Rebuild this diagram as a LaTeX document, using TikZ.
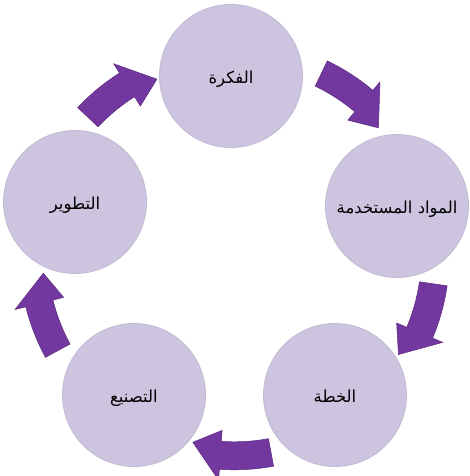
\documentclass[tikz,border=0pt]{standalone}
\usepackage{fontspec}
\TeXXeTstate=1
\newfontfamily\arabicfont[Script=Arabic]{DejaVu Sans}
\definecolor{circfill}{RGB}{205,196,224}
\definecolor{arrowpurple}{RGB}{115,55,160}
\newcommand{\cyclearrow}[1]{%
  \pgfmathsetmacro{\ta}{#1+10.5}%
  \pgfmathsetmacro{\ba}{#1-4}%
  \pgfmathsetmacro{\pa}{#1-12.5}%
  \fill[cyclearrowstyle] (\ta:215) arc[start angle=\ta, end angle=\ba, radius=215]
    -- (\ba:226) -- (\pa:192) -- (\ba:176) -- (\ba:187)
    arc[start angle=\ba, end angle=\ta, radius=187] -- cycle;}
\newcommand{\stagetext}[1]{\beginR #1\endR}
\begin{document}
\begin{tikzpicture}[x=1pt,y=1pt,
  stage/.style={circle, fill=circfill, draw=circfill!85!gray, line width=0.8pt,
    minimum size=143pt, inner sep=0pt, text height=15pt, text depth=0pt,
    font=\arabicfont\fontsize{16.5}{19}\selectfont, text=black},
  cyclearrowstyle/.style={fill=arrowpurple, draw=arrowpurple!80!black, line width=0.5pt}]
\useasboundingbox (0,0) rectangle (469,476);
\fill[white] (0,0) rectangle (469,476);
\coordinate (C) at (234.4,221.2);
\node[stage] (idea) at (231,400) {\stagetext{الفكرة}};
\node[stage] (materials) at (397,270) {\stagetext{المواد المستخدمة}};
\node[stage] (plan) at (335,81) {\stagetext{الخطة}};
\node[stage] (making) at (134,81) {\stagetext{التصنيع}};
\node[stage] (develop) at (75,274) {\stagetext{التطوير}};
\begin{scope}[shift={(C)}]
  \cyclearrow{53.9}
  \cyclearrow{-18.8}
  \cyclearrow{-90}
  \cyclearrow{-162}
  \cyclearrow{126.3}
\end{scope}
\end{tikzpicture}
\end{document}
